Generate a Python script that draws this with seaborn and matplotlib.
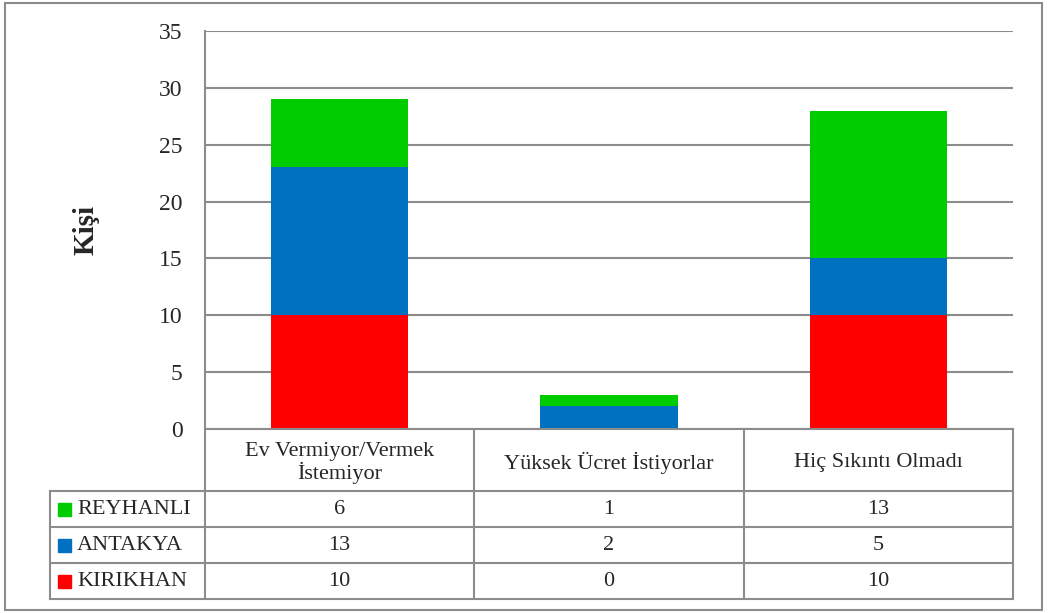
import matplotlib
matplotlib.use("Agg")
import matplotlib.pyplot as plt
import seaborn as sns
import numpy as np
from matplotlib.patches import Rectangle
from matplotlib.transforms import blended_transform_factory

# data
categories = ["Ev Vermiyor/Vermek\nİstemiyor", "Yüksek Ücret İstiyorlar", "Hiç Sıkıntı Olmadı"]
kirikhan = [10, 0, 10]
antakya = [13, 2, 5]
reyhanli = [6, 1, 13]
yticks = [0, 5, 10, 15, 20, 25, 30, 35]

series = [("KIRIKHAN", kirikhan, "#FF0000"),
          ("ANTAKYA", antakya, "#0070C0"),
          ("REYHANLI", reyhanli, "#00CC00")]

sns.set_theme(style="white")
plt.rcParams["font.family"] = ["Liberation Serif", "DejaVu Serif"]
grid_c = "#8c8c8c"
fs = 16

fig = plt.figure(figsize=(10.49, 6.13), dpi=100)
ax = fig.add_axes([205 / 1049, 1 - 429 / 613, 808 / 1049, 398 / 613])

xpos = list(range(len(categories)))
bottom = np.zeros(len(categories))
for name, vals, col in series:
    sns.barplot(x=xpos, y=vals, bottom=bottom, color=col, saturation=1,
                width=0.51, errorbar=None, linewidth=0, ax=ax, native_scale=True)
    bottom = bottom + np.array(vals)

ax.set_xlim(-0.5, 2.5)
ax.set_ylim(0, 35)
ax.set_yticks(yticks)
ax.set_xticks([])
ax.set_xlabel("")
ax.tick_params(axis="y", length=0, pad=16, labelsize=17)
ax.yaxis.grid(True, color=grid_c, lw=1.5)
ax.set_axisbelow(True)
for s in ["top", "right", "bottom"]:
    ax.spines[s].set_visible(False)
ax.spines["left"].set_color(grid_c)
ax.spines["left"].set_linewidth(1.5)
ax.set_ylabel("Kişi", fontsize=21, fontweight="bold")
ax.yaxis.set_label_coords(-0.13, 0.5)

# data table under the bars
tr = blended_transform_factory(ax.transData, ax.transAxes)
hdr = 62 / 398
row = 36 / 398
n_rows = len(series)
y_bot = -hdr - n_rows * row
lkw = dict(color=grid_c, lw=1.5, clip_on=False, solid_capstyle="projecting")

# vertical lines between columns
for i in range(len(categories) + 1):
    ax.plot([i - 0.5, i - 0.5], [0, y_bot], transform=tr, **lkw)
# horizontal lines
ax.plot([-0.5, 2.5], [0, 0], transform=tr, **lkw)
left_edge = -155 / 808
for k in range(n_rows + 1):
    y = -hdr - k * row
    ax.plot([left_edge, 1], [y, y], transform=ax.transAxes, **lkw)
ax.plot([left_edge, left_edge], [-hdr, y_bot], transform=ax.transAxes, **lkw)

for i, cat in enumerate(categories):
    ax.text(i, -hdr / 2 - 3 / 398, cat, transform=tr, ha="center", va="center",
            fontsize=fs, linespacing=1.05, clip_on=False)

table_rows = list(reversed(series))
for k, (name, vals, col) in enumerate(table_rows):
    yc = -hdr - (k + 0.5) * row
    sq_w = 13 / 808
    sq_h = 13 / 398
    ax.add_patch(Rectangle((-147 / 808, yc - sq_h / 2), sq_w, sq_h, color=col,
                           transform=ax.transAxes, clip_on=False))
    ax.text(-128 / 808, yc, name, transform=ax.transAxes, ha="left", va="center",
            fontsize=fs, clip_on=False)
    for i, v in enumerate(vals):
        ax.text(i, yc, str(v), transform=tr, ha="center", va="center",
                fontsize=fs, clip_on=False)

# outer chart border
fig.patches.append(Rectangle((5 / 1049, 3 / 613), 1037 / 1049, 607 / 613,
                             transform=fig.transFigure, fill=False,
                             ec=grid_c, lw=1.5))

fig.savefig("out.png", dpi=100)
